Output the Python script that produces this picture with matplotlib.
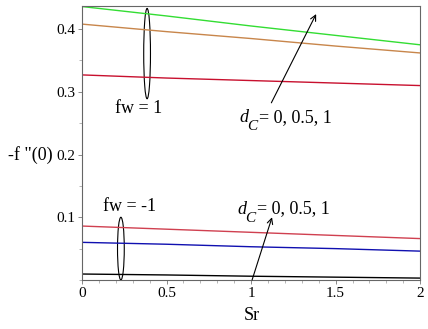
import matplotlib
matplotlib.use("Agg")
import matplotlib.pyplot as plt
from matplotlib.patches import Ellipse
from matplotlib.ticker import MultipleLocator

plt.rcParams["font.family"] = ["Liberation Serif", "DejaVu Serif"]

# Sr values and -f''(0)
sr = [0.0, 0.5, 1.0, 1.5, 2.0]
# fw = 1, d_C = 0, 0.5, 1
fw1_d0 = [0.327, 0.322, 0.318, 0.314, 0.310]
fw1_d05 = [0.408, 0.396, 0.385, 0.373, 0.362]
fw1_d1 = [0.436, 0.421, 0.405, 0.390, 0.375]
# fw = -1, d_C = 0, 0.5, 1
fwm1_d0 = [0.0095, 0.008, 0.006, 0.0045, 0.003]
fwm1_d05 = [0.060, 0.057, 0.053, 0.050, 0.046]
fwm1_d1 = [0.086, 0.081, 0.076, 0.071, 0.066]

xticks = [0, 0.5, 1, 1.5, 2]
xticklabels = ["0", "0.5", "1", "1.5", "2"]
yticks = [0.1, 0.2, 0.3, 0.4]
yticklabels = ["0.1", "0.2", "0.3", "0.4"]

fig = plt.figure(figsize=(4.28, 3.29), dpi=100)
ax = fig.add_axes([0.1916, 0.149, 0.790, 0.833])

ax.plot(sr, fw1_d0, color="#c8102e", lw=1)
ax.plot(sr, fw1_d05, color="#c8864b", lw=1)
ax.plot(sr, fw1_d1, color="#33dd33", lw=1)
ax.plot(sr, fwm1_d0, color="black", lw=1)
ax.plot(sr, fwm1_d05, color="#1010b0", lw=1)
ax.plot(sr, fwm1_d1, color="#d04050", lw=1)

ax.set_xlim(0, 2)
ax.set_ylim(0, 0.437)
ax.set_xticks(xticks, xticklabels)
ax.set_yticks(yticks, yticklabels)
ax.xaxis.set_minor_locator(MultipleLocator(0.1))
ax.yaxis.set_minor_locator(MultipleLocator(0.05))
ax.tick_params(which="major", length=3, width=0.6, color="#777777", labelsize=11, pad=2)
ax.tick_params(which="minor", length=2, width=0.5, color="#999999")
for s in ax.spines.values():
    s.set_color("#666666")
    s.set_linewidth(0.8)

# ellipses grouping curves
ax.add_patch(Ellipse((0.385, 0.361), 0.04, 0.144, fill=False, ec="black", lw=0.8))
ax.add_patch(Ellipse((0.23, 0.05), 0.04, 0.1, fill=False, ec="black", lw=0.8))

ax.text(0.195, 0.267, "fw = 1", fontsize=13, ha="left", va="baseline")
ax.text(0.124, 0.110, "fw = -1", fontsize=13, ha="left", va="baseline")

arrow = dict(arrowstyle="->", color="black", lw=0.8, shrinkA=0, shrinkB=0)
ax.annotate("", xy=(1.385, 0.424), xytext=(1.12, 0.2825), arrowprops=arrow)
ax.annotate("", xy=(1.124, 0.100), xytext=(1.006, 0.0), arrowprops=arrow)


def d_label(x, y):
    # "d" with a low italic subscript "C", then the value list
    kw = dict(xycoords="data", textcoords="offset pixels", ha="left", va="baseline")
    ax.annotate("d", (x, y), xytext=(0, 0), fontsize=13, style="italic", **kw)
    ax.annotate("C", (x, y), xytext=(8, -8), fontsize=11, style="italic", **kw)
    ax.annotate("= 0, 0.5, 1", (x, y), xytext=(20, 0), fontsize=13, **kw)


d_label(0.93, 0.252)
d_label(0.917, 0.106)

fig.text(8 / 428, 1 - 155 / 329, "-f \"(0)", fontsize=13, ha="left", va="center")
fig.text(252 / 428, 1 - 315 / 329, "Sr", fontsize=13, ha="center", va="center")

fig.savefig("out.png", dpi=100)
